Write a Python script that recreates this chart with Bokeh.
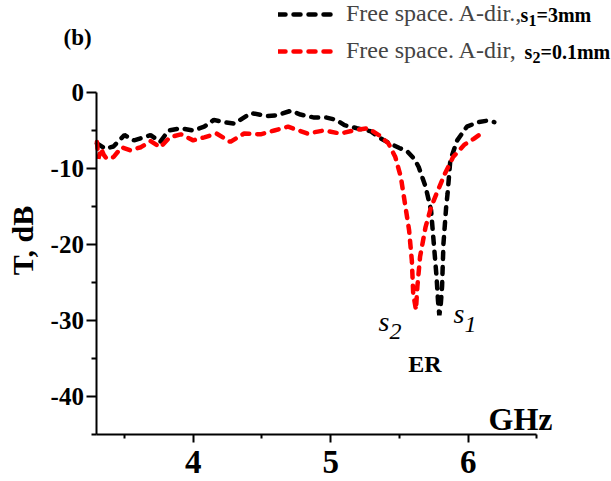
from math import pi
from bokeh.plotting import figure
from bokeh.models import Range1d, FixedTicker, Label, Legend, LegendItem, LinearAxis
from bokeh.embed import file_html
from bokeh.resources import INLINE

# ---- data ----
black_f = [3.30, 3.36, 3.42, 3.50, 3.57, 3.64, 3.69, 3.76, 3.82, 3.91, 4.00, 4.08, 4.15,
           4.22, 4.30, 4.42, 4.54, 4.61, 4.71, 4.78, 4.88, 4.97, 5.04, 5.10, 5.19, 5.29,
           5.36, 5.43, 5.50, 5.56, 5.61, 5.64, 5.69, 5.73, 5.75, 5.77, 5.78, 5.79, 5.80,
           5.81, 5.82, 5.84, 5.85, 5.87, 5.92, 5.99, 6.07, 6.14, 6.19]
black_t = [-6.7, -7.4, -7.1, -5.6, -6.3, -5.9, -5.6, -6.5, -5.0, -4.7, -5.0, -4.5, -3.6,
           -3.9, -4.1, -2.7, -3.1, -3.0, -2.4, -2.9, -3.3, -3.3, -3.6, -4.3, -4.7, -5.1,
           -6.0, -6.7, -7.3, -7.8, -8.8, -9.8, -12.4, -15.5, -19.9, -24.3, -27.3, -29.3, -28.0,
           -25.5, -19.9, -15.0, -13.3, -8.9, -6.3, -4.5, -3.9, -3.7, -3.9]
red_f = [3.30, 3.31, 3.33, 3.35, 3.37, 3.42, 3.48, 3.54, 3.62, 3.69, 3.76, 3.83, 3.91,
         4.00, 4.08, 4.17, 4.27, 4.37, 4.49, 4.59, 4.69, 4.83, 4.95, 5.07, 5.19, 5.27,
         5.35, 5.42, 5.47, 5.51, 5.54, 5.57, 5.59, 5.60, 5.62, 5.63, 5.65, 5.69, 5.73,
         5.77, 5.83, 5.89, 5.97, 6.04, 6.11]
red_t = [-6.5, -8.7, -7.4, -8.2, -8.7, -8.5, -7.2, -7.6, -7.2, -6.4, -7.2, -5.9, -5.5,
         -6.3, -5.9, -5.4, -6.5, -5.4, -5.5, -5.0, -4.5, -5.4, -5.0, -5.4, -4.9, -4.7,
         -5.6, -6.7, -8.5, -11.1, -14.6, -18.1, -22.1, -26.4, -28.6, -25.6, -21.6, -17.7, -15.1,
         -13.3, -10.7, -8.5, -6.9, -6.1, -5.2]
x_major = [4, 5, 6]
x_minor = [3.5, 4.5, 5.5, 6.5]
y_major = [-40, -30, -20, -10, 0]
y_minor = [-45, -35, -25, -15, -5]
legend_labels = ["Free space. A-dir.,", "Free space. A-dir, "]

# ---- geometry (pixel layout of the page) ----
W, H = 611, 481
X0, X1 = 3.3, 6.5
Y0, Y1 = -45, 0
PX_PER_GHZ = 137.5
PX_PER_DB = 7.6
X0_PX = 96.45      # pixel column of x = 3.3
Y1_PX = 92.0       # pixel row of y = 0


def dx(px):
    return X0 + (px - X0_PX) / PX_PER_GHZ


def dy(py):
    return Y1 - (py - Y1_PX) / PX_PER_DB


FONT = "Liberation Serif"

p = figure(frame_width=W, frame_height=H,
           x_range=Range1d(dx(0), dx(W)), y_range=Range1d(dy(H), dy(0)),
           output_backend="svg", toolbar_location=None,
           x_axis_location=None, y_axis_location=None,
           min_border=0, min_border_left=0, min_border_right=0,
           min_border_top=0, min_border_bottom=0)
p.outline_line_color = None
p.xgrid.visible = False
p.ygrid.visible = False
p.background_fill_color = "white"
p.border_fill_color = "white"

xaxis = LinearAxis(fixed_location=Y0, bounds=(X0, X1),
                   ticker=FixedTicker(ticks=x_major, minor_ticks=x_minor))
yaxis = LinearAxis(fixed_location=X0, bounds=(Y0, Y1),
                   ticker=FixedTicker(ticks=y_major, minor_ticks=y_minor),
                   major_label_overrides={v: str(v) for v in y_major})
for ax in (xaxis, yaxis):
    ax.axis_line_width = 2
    ax.major_tick_line_width = 2
    ax.minor_tick_line_width = 2
    ax.major_tick_in = 0
    ax.minor_tick_in = 0
    ax.major_label_text_font = FONT
    ax.major_label_text_font_style = "bold"
    ax.major_label_text_color = "black"
xaxis.major_tick_out = 8
xaxis.minor_tick_out = 4
xaxis.major_label_text_font_size = "33px"
xaxis.major_label_standoff = 8
yaxis.major_tick_out = 10
yaxis.minor_tick_out = 5
yaxis.major_label_text_font_size = "25px"
yaxis.major_label_standoff = 3
p.add_layout(xaxis, "below")
p.add_layout(yaxis, "left")

rb = p.line(black_f, black_t, line_color="black", line_width=4.5,
            line_dash="7 8", line_cap="round")
rr = p.line(red_f, red_t, line_color="#ff0000", line_width=4.5,
            line_dash="7 8", line_cap="round")

legend = Legend(items=[LegendItem(label=legend_labels[0], renderers=[rb]),
                       LegendItem(label=legend_labels[1], renderers=[rr])],
                location=(278, 417), orientation="vertical", padding=0, margin=0,
                spacing=10, glyph_width=60, glyph_height=20, label_height=20,
                label_standoff=8, label_text_font=FONT, label_text_font_size="24px",
                border_line_color=None, background_fill_alpha=0)
p.add_layout(legend)


def lab(text, px, py, size, style="bold", align="left", angle=0):
    p.add_layout(Label(x=dx(px), y=dy(py), text=text, text_font=FONT,
                       text_font_size=f"{size}px", text_font_style=style,
                       text_align=align, text_baseline="middle", angle=angle,
                       text_color="black"))


lab("(b)", 63, 37, 23)
lab("T, dB", 22, 240, 30, align="center", angle=pi / 2)
lab("GHz", 488, 418, 32)
lab("ER", 424.5, 363.5, 24, align="center")
lab("s", 378, 320.5, 28, style="italic")
lab("2", 389, 331, 24, style="italic")
lab("s", 453, 312.5, 28, style="italic")
lab("1", 464, 324, 24, style="italic")
# bold parts of the legend entries
lab("s", 520, 14, 20)
lab("1", 528, 19.5, 16)
lab("=3mm", 536, 14, 20)
lab("s", 524, 51, 20)
lab("2", 532, 56.5, 16)
lab("=0.1mm", 540, 51, 20)

open("out.html", "w").write(file_html(p, INLINE))
